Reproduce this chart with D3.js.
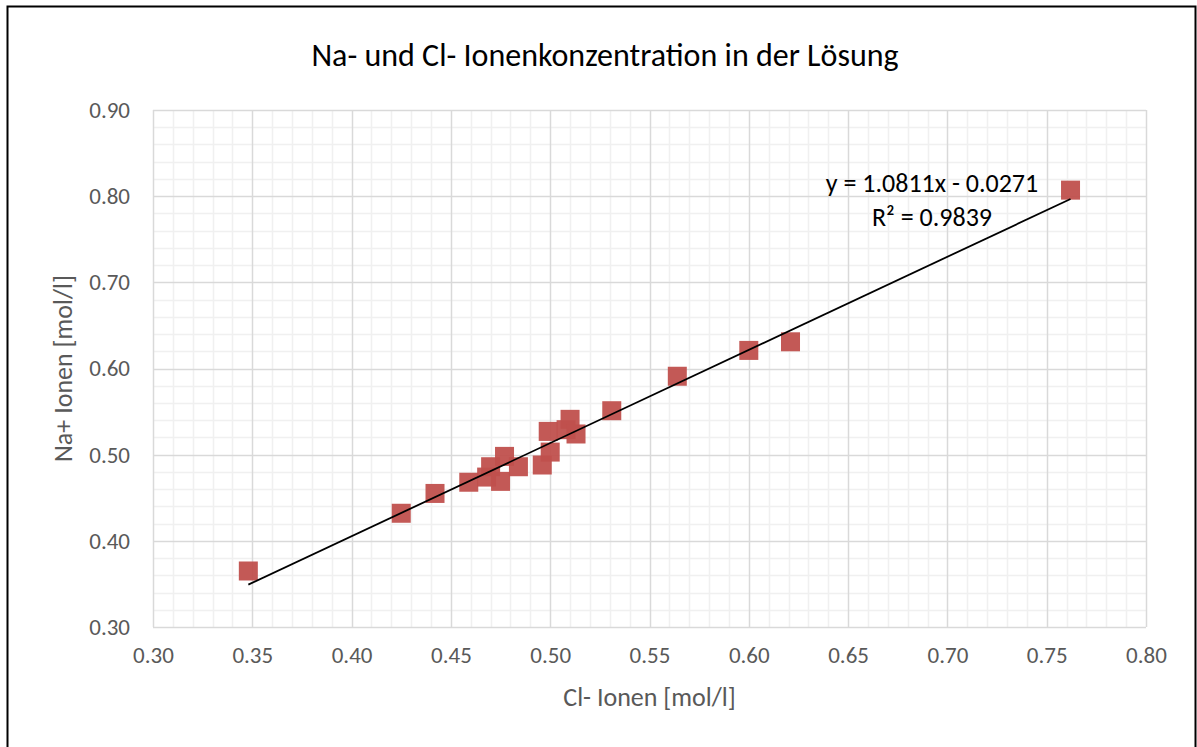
<!DOCTYPE html>
<html>
<head>
<meta charset="utf-8">
<script src="https://cdn.jsdelivr.net/npm/d3@7"></script>
<style>
  body { margin: 0; background: #fff; }
  svg text { font-family: Carlito, "Open Sans", "Noto Sans", sans-serif; }
</style>
</head>
<body>
<svg id="chart" width="1197" height="747"></svg>
<script>
// Cl- vs Na+ concentrations (mol/l)
var clValues = [0.348, 0.425, 0.442, 0.459, 0.468, 0.470, 0.475, 0.477, 0.484, 0.496,
                0.499, 0.500, 0.508, 0.510, 0.513, 0.531, 0.564, 0.600, 0.621, 0.762];
var naValues = [0.365, 0.432, 0.455, 0.468, 0.474, 0.486, 0.469, 0.498, 0.486, 0.488,
                0.527, 0.503, 0.529, 0.541, 0.524, 0.551, 0.591, 0.621, 0.631, 0.807];
var xTicks = [0.30, 0.35, 0.40, 0.45, 0.50, 0.55, 0.60, 0.65, 0.70, 0.75, 0.80];
var yTicks = [0.30, 0.40, 0.50, 0.60, 0.70, 0.80, 0.90];
var trendSlope = 1.0811, trendIntercept = -0.0271, trendR2 = 0.9839;

var svg = d3.select("#chart");

// outer frame
svg.append("rect")
    .attr("x", 7.5).attr("y", 6.5)
    .attr("width", 1188).attr("height", 760)
    .attr("fill", "#fff").attr("stroke", "#000").attr("stroke-width", 2);

var pLeft = 153, pRight = 1146, pTop = 110, pBottom = 627;
var x = d3.scaleLinear().domain([0.30, 0.80]).range([pLeft, pRight]);
var y = d3.scaleLinear().domain([0.30, 0.90]).range([pBottom, pTop]);

var grid = svg.append("g");
// minor grid
grid.selectAll(".mx").data(d3.range(31, 80).map(function(d){ return d / 100; }).filter(function(d){ return Math.round(d*100) % 5 != 0; }))
    .enter().append("line")
    .attr("x1", function(d){ return Math.round(x(d)) + 0.5; })
    .attr("x2", function(d){ return Math.round(x(d)) + 0.5; })
    .attr("y1", pTop).attr("y2", pBottom)
    .attr("stroke", "#f0f0f0").attr("stroke-width", 1.5);
grid.selectAll(".my").data(d3.range(15, 45).map(function(d){ return d / 50; }).filter(function(d){ return Math.round(d*50) % 5 != 0; }))
    .enter().append("line")
    .attr("y1", function(d){ return Math.round(y(d)) + 0.5; })
    .attr("y2", function(d){ return Math.round(y(d)) + 0.5; })
    .attr("x1", pLeft).attr("x2", pRight)
    .attr("stroke", "#f0f0f0").attr("stroke-width", 1.5);
// major grid
grid.selectAll(".Mx").data(xTicks).enter().append("line")
    .attr("x1", function(d){ return Math.round(x(d)) + 0.5; })
    .attr("x2", function(d){ return Math.round(x(d)) + 0.5; })
    .attr("y1", pTop).attr("y2", pBottom)
    .attr("stroke", "#d9d9d9").attr("stroke-width", 1.5);
grid.selectAll(".My").data(yTicks).enter().append("line")
    .attr("y1", function(d){ return Math.round(y(d)) + 0.5; })
    .attr("y2", function(d){ return Math.round(y(d)) + 0.5; })
    .attr("x1", pLeft).attr("x2", pRight)
    .attr("stroke", "#d9d9d9").attr("stroke-width", 1.5);

// axes
var xAxis = svg.append("g").attr("transform", "translate(0," + pBottom + ")")
    .call(d3.axisBottom(x).tickValues(xTicks).tickFormat(d3.format(".2f")).tickSize(0).tickPadding(20));
var yAxis = svg.append("g").attr("transform", "translate(" + pLeft + ",0)")
    .call(d3.axisLeft(y).tickValues(yTicks).tickFormat(d3.format(".2f")).tickSize(0).tickPadding(23));
[xAxis, yAxis].forEach(function(a) {
    a.select(".domain").remove();
    a.selectAll("text").attr("fill", "#595959").style("font-size", "23px")
        .style("font-family", "Carlito, 'Open Sans', 'Noto Sans', sans-serif");
});

// points
svg.append("g").selectAll("rect").data(clValues).enter().append("rect")
    .attr("x", function(d){ return x(d) - 9.5; })
    .attr("y", function(d, i){ return y(naValues[i]) - 9.5; })
    .attr("width", 19).attr("height", 19)
    .attr("fill", "#c0504d").attr("fill-opacity", 0.95);

// trendline
var xMin = d3.min(clValues), xMax = d3.max(clValues);
svg.append("line")
    .attr("x1", x(xMin)).attr("y1", y(trendSlope * xMin + trendIntercept))
    .attr("x2", x(xMax)).attr("y2", y(trendSlope * xMax + trendIntercept))
    .attr("stroke", "#000").attr("stroke-width", 1.8);

// equation label
svg.append("text").attr("x", 932).attr("y", 192)
    .attr("text-anchor", "middle").attr("fill", "#000").style("font-size", "26px")
    .text("y = " + trendSlope.toFixed(4) + "x - " + Math.abs(trendIntercept).toFixed(4));
svg.append("text").attr("x", 932).attr("y", 226)
    .attr("text-anchor", "middle").attr("fill", "#000").style("font-size", "26px")
    .text("R² = " + trendR2.toFixed(4));

// titles
svg.append("text").attr("x", 605).attr("y", 66)
    .attr("text-anchor", "middle").attr("fill", "#000").style("font-size", "32px")
    .text("Na- und Cl- Ionenkonzentration in der Lösung");
svg.append("text").attr("x", (pLeft + pRight) / 2).attr("y", 706)
    .attr("text-anchor", "middle").attr("fill", "#595959").style("font-size", "26px")
    .text("Cl- Ionen [mol/l]");
svg.append("text")
    .attr("transform", "translate(72," + (pTop + pBottom) / 2 + ") rotate(-90)")
    .attr("text-anchor", "middle").attr("fill", "#595959").style("font-size", "26px")
    .text("Na+ Ionen [mol/l]");
</script>
</body>
</html>
